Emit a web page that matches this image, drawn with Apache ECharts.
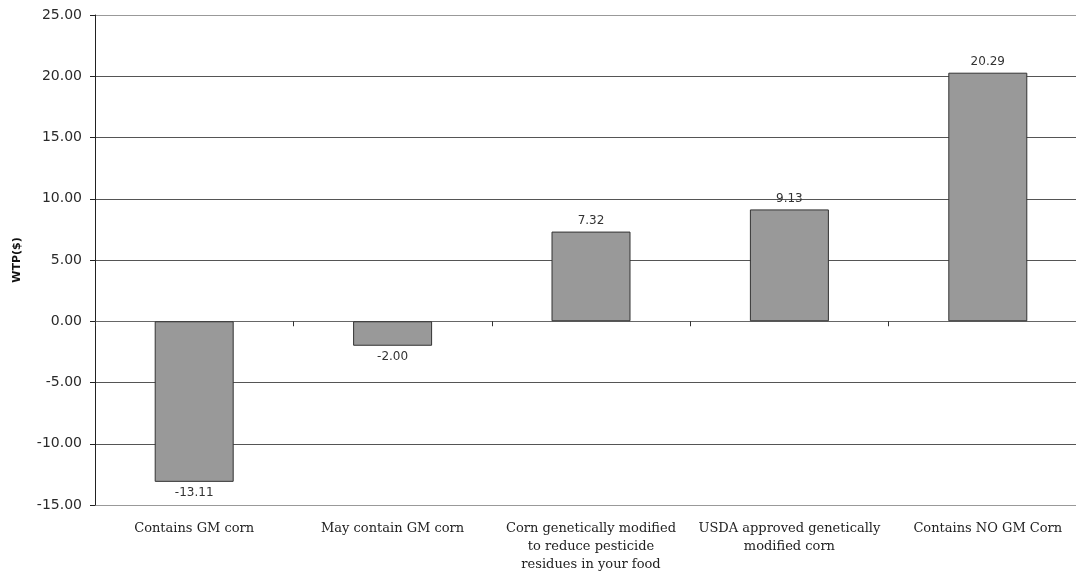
<!DOCTYPE html>
<html>
<head>
<meta charset="utf-8">
<script src="https://cdn.jsdelivr.net/npm/echarts@6/dist/echarts.min.js"></script>
<style>html,body{margin:0;padding:0;background:#fff;overflow:hidden}#wrap{width:1076px;height:574px;overflow:hidden;position:relative}#c{width:1100px;height:574px}</style>
</head>
<body>
<div id="wrap"><div id="c"></div></div>
<script>
var categories = [
  "Contains GM corn",
  "May contain GM corn",
  "Corn genetically modified\nto reduce pesticide\nresidues in your food",
  "USDA approved genetically\nmodified corn",
  "Contains NO GM Corn"
];
var values = [-13.11, -2.00, 7.32, 9.13, 20.29];
var yAxisName = "WTP($)";

var chart = echarts.init(document.getElementById('c'));
chart.setOption({
  animation: false,
  grid: {left: 95, top: 15, width: 992, height: 490},
  xAxis: [{
    type: 'category',
    data: categories,
    position: 'bottom',
    axisLine: {show: false, onZero: false},
    axisTick: {show: false},
    axisLabel: {
      interval: 0, margin: 15,
      fontFamily: 'DejaVu Serif, serif',
      fontSize: 13, color: '#222', lineHeight: 18
    }
  }, {
    type: 'category',
    data: categories,
    position: 'bottom',
    axisLine: {show: true, onZero: true, lineStyle: {color: '#666', width: 1}},
    axisTick: {show: true, inside: false, length: 5, lineStyle: {color: '#333'}},
    axisLabel: {show: false}
  }],
  yAxis: {
    type: 'value',
    min: -15, max: 25, interval: 5,
    name: yAxisName,
    nameLocation: 'middle',
    nameGap: 72,
    nameTextStyle: {fontFamily: 'DejaVu Sans, sans-serif', fontWeight: 'bold', fontSize: 11, color: '#111'},
    axisLine: {show: true, lineStyle: {color: '#222', width: 1}},
    axisTick: {show: true, length: 5, lineStyle: {color: '#222'}},
    axisLabel: {
      margin: 13,
      formatter: function (v) { return v.toFixed(2); },
      fontFamily: 'DejaVu Sans, sans-serif', fontSize: 14, color: '#2a2a2a'
    },
    splitLine: {show: true, lineStyle: {color: ['#999', '#555', '#555', '#555', '#555', '#555', '#555', '#555', '#999'], width: 1}}
  },
  series: [{
    type: 'bar',
    barWidth: 79,
    data: values.map(function (v) {
      return {value: v, label: {position: v < 0 ? 'bottom' : 'top'}};
    }),
    itemStyle: {color: '#999999', borderColor: '#333', borderWidth: 1},
    label: {
      show: true,
      distance: 5,
      formatter: function (p) { return p.value.toFixed(2); },
      fontFamily: 'DejaVu Sans, sans-serif', fontSize: 12, color: '#333'
    }
  }]
});
</script>
</body>
</html>
